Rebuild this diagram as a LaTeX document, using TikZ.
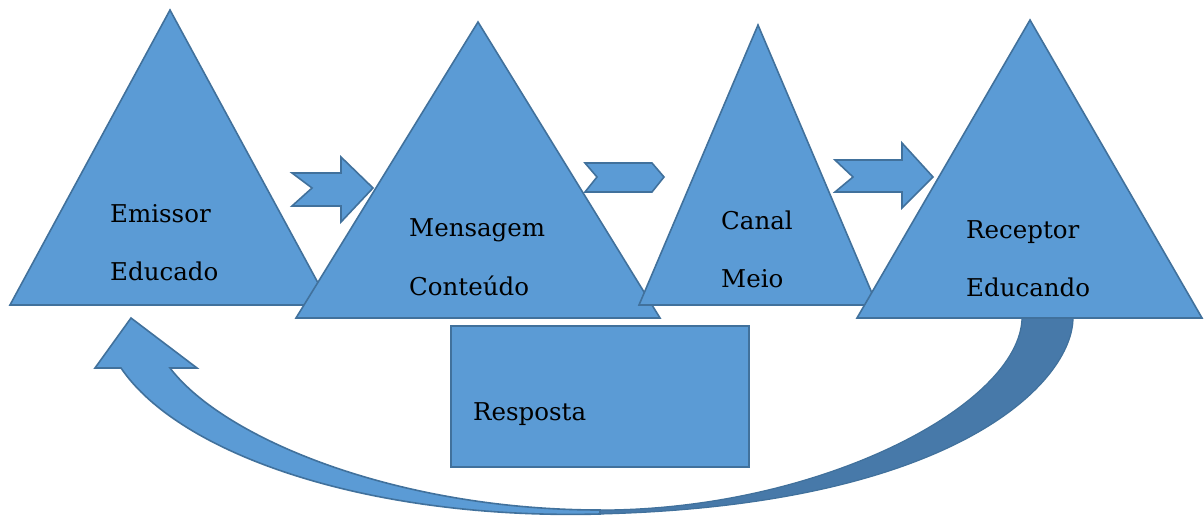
\documentclass[tikz,border=0pt]{standalone}
\usepackage{fontspec}
\setmainfont{DejaVu Serif}
\definecolor{fillblue}{HTML}{5B9BD5}
\definecolor{edgeblue}{HTML}{41719C}
\definecolor{shadeblue}{HTML}{4779A9}
\tikzset{
  shp/.style={fill=fillblue,draw=edgeblue,line width=1.6pt,line join=miter},
  shade/.style={fill=shadeblue,draw=edgeblue,line width=1.2pt},
  lbl/.style={anchor=base west,inner sep=0pt,text=black,font=\fontsize{24.5}{28}\selectfont}
}
\begin{document}
\begin{tikzpicture}[x=1pt,y=-1pt]
\useasboundingbox (0,0) rectangle (1204,516);
% curved feedback arrow (dark underside)
\path[shade] (1073,318) .. controls (1073,380) and (960,505) .. (600,514)
  -- (600,510) .. controls (820,510) and (1020,405) .. (1022,318) -- cycle;
% curved feedback arrow (light face with head)
\path[shp] (121,368) .. controls (180,455) and (370,520) .. (600,514)
  -- (600,510) .. controls (400,510) and (225,440) .. (170,368)
  -- (197,368) -- (131,318) -- (95,368) -- cycle;
% triangles
\path[shp] (170,10) -- (330,305) -- (10,305) -- cycle;
\path[shp] (478,22) -- (660,318) -- (296,318) -- cycle;
\path[shp] (758,25) -- (877,305) -- (639,305) -- cycle;
\path[shp] (1030,20) -- (1202,318) -- (857,318) -- cycle;
% block arrows
\path[shp] (292,173) -- (341,173) -- (341,157) -- (373,188) -- (341,222)
  -- (341,206) -- (292,206) -- (312,188) -- cycle;
\path[shp] (585,163) -- (652,163) -- (664,177) -- (652,192) -- (585,192)
  -- (597,177) -- cycle;
\path[shp] (835,160) -- (902,160) -- (902,143) -- (933,177) -- (902,208)
  -- (902,192) -- (835,192) -- (853,177) -- cycle;
% response box
\path[shp] (451,326) rectangle (749,467);
% labels
\node[lbl] (emissor) at (110,222) {Emissor};
\node[lbl] (educado) at (110,280) {Educado};
\node[lbl] (mensagem) at (409,236) {Mensagem};
\node[lbl] (conteudo) at (409,295) {Conteúdo};
\node[lbl] (canal) at (721,229) {Canal};
\node[lbl] (meio) at (721,287) {Meio};
\node[lbl] (receptor) at (966,238) {Receptor};
\node[lbl] (educando) at (966,296) {Educando};
\node[lbl] (resposta) at (473,420) {Resposta};
\end{tikzpicture}
\end{document}
